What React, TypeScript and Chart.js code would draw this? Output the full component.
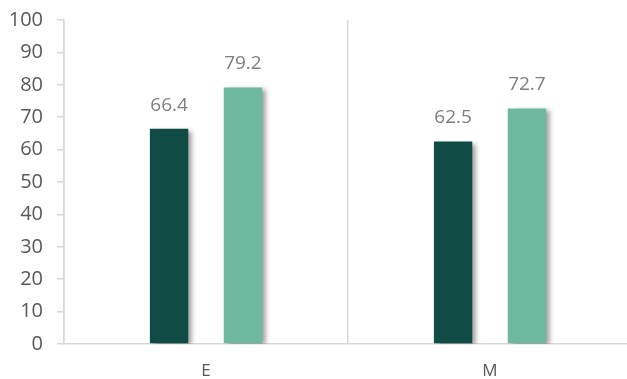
import React, { useEffect, useRef } from "react";
import { Chart, registerables } from "chart.js";

Chart.register(...registerables);

const categories = ["E", "M"];
const seriesA = [66.4, 62.5];
const seriesB = [79.2, 72.7];
const yMin = 0;
const yMax = 100;
const yStep = 10;

const FONT = "'Open Sans', 'Liberation Sans', sans-serif";

const shadowPlugin = {
  id: "barShadow",
  beforeDatasetDraw(chart: any) {
    const ctx = chart.ctx;
    ctx.save();
    ctx.shadowColor = "rgba(0,0,0,0.4)";
    ctx.shadowBlur = 5;
    ctx.shadowOffsetX = 4;
    ctx.shadowOffsetY = 2;
  },
  afterDatasetDraw(chart: any) {
    chart.ctx.restore();
  },
};

const labelPlugin = {
  id: "valueLabels",
  afterDatasetsDraw(chart: any) {
    const ctx = chart.ctx;
    ctx.save();
    ctx.fillStyle = "#7f7f7f";
    ctx.font = `19px ${FONT}`;
    ctx.textAlign = "center";
    ctx.textBaseline = "bottom";
    chart.data.datasets.forEach((ds: any, i: number) => {
      const meta = chart.getDatasetMeta(i);
      meta.data.forEach((bar: any, j: number) => {
        ctx.fillText(String(ds.data[j]), bar.x, bar.y - 14);
      });
    });
    ctx.restore();
  },
};

export default function App() {
  const ref = useRef<HTMLCanvasElement>(null);
  useEffect(() => {
    const chart = new Chart(ref.current!, {
      type: "bar",
      data: {
        labels: categories,
        datasets: [
          { label: "A", data: seriesA, backgroundColor: "#114b45" },
          { label: "B", data: seriesB, backgroundColor: "#6fb8a0" },
        ],
      },
      options: {
        animation: false,
        responsive: false,
        maintainAspectRatio: false,
        devicePixelRatio: 1,
        layout: { padding: { left: 8, top: 20, right: 0, bottom: 0 } },
        datasets: { bar: { categoryPercentage: 0.52, barPercentage: 0.52 } },
        plugins: { legend: { display: false }, tooltip: { enabled: false } },
        scales: {
          x: {
            afterFit(scale: any) {
              scale.height = 35;
              scale.paddingLeft = 0;
              scale.paddingRight = 0;
            },
            grid: {
              offset: true,
              drawTicks: false,
              color: "#d9d9d9",
              lineWidth: 1.5,
            },
            border: { color: "#d9d9d9", width: 1.5 },
            ticks: { color: "#595959", font: { family: FONT, size: 17 }, padding: 17 },
          },
          y: {
            min: yMin,
            max: yMax,
            afterFit(scale: any) {
              scale.width = 56;
              scale.paddingTop = 0;
              scale.paddingBottom = 0;
            },
            grid: {
              drawOnChartArea: false,
              drawTicks: true,
              tickLength: 7,
              color: "#d9d9d9",
              lineWidth: 1.5,
            },
            border: { color: "#d9d9d9", width: 1.5 },
            ticks: {
              stepSize: yStep,
              color: "#595959",
              font: { family: FONT, size: 20 },
              padding: 14,
            },
          },
        },
      },
      plugins: [shadowPlugin, labelPlugin],
    });
    return () => chart.destroy();
  }, []);
  return (
    <div style={{ position: "fixed", left: 0, top: 0, width: 627, height: 379, background: "#fff", overflow: "hidden" }}>
      <canvas ref={ref} width={632} height={379} />
    </div>
  );
}
